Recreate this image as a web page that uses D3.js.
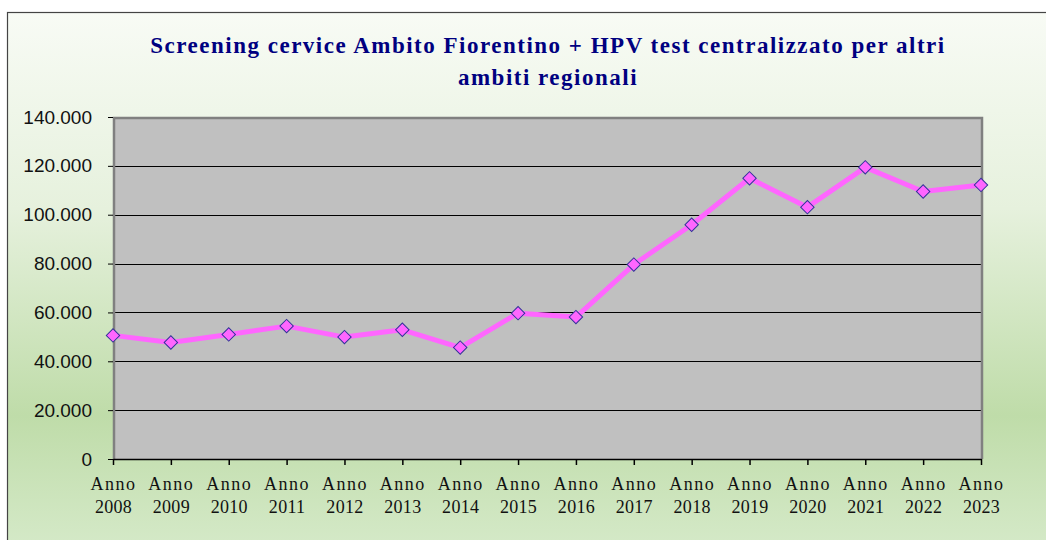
<!DOCTYPE html>
<html>
<head>
<meta charset="utf-8">
<script src="https://cdn.jsdelivr.net/npm/d3@7"></script>
<style>
  html, body { margin: 0; padding: 0; background: #ffffff; }
</style>
</head>
<body>
<div id="chart"></div>
<script>
// Data
const years = ["2008", "2009", "2010", "2011", "2012", "2013", "2014", "2015",
  "2016", "2017", "2018", "2019", "2020", "2021", "2022", "2023"];
const categories = years.map(y => "Anno " + y);
const values = [50600, 47700, 51000, 54400, 49900, 52900, 45600, 59700,
  58100, 79600, 95900, 114900, 103100, 119400, 109500, 112200];
const yTicks = [0, 20000, 40000, 60000, 80000, 100000, 120000, 140000];
const titleLines = ["Screening cervice Ambito Fiorentino + HPV test centralizzato per altri",
  "ambiti regionali"];

// Settings
const width = 1046, height = 540;
const plot = { left: 113, right: 981, top: 117, bottom: 459 };

const svg = d3.select("#chart").append("svg")
  .attr("width", width)
  .attr("height", height);

const defs = svg.append("defs");
const grad = defs.append("linearGradient")
  .attr("id", "bg")
  .attr("x1", 0).attr("y1", 0).attr("x2", 0).attr("y2", 1);
[["0%", "#f8fbf5"], ["35%", "#e6f1dd"], ["72%", "#bfdca9"], ["100%", "#d9ecce"]]
  .forEach(s => grad.append("stop").attr("offset", s[0]).attr("stop-color", s[1]));

// chart area background + border
svg.append("rect")
  .attr("x", 7.5).attr("y", 12.5)
  .attr("width", 1060).attr("height", 560)
  .attr("fill", "url(#bg)")
  .attr("stroke", "#444")
  .attr("stroke-width", 1.2);

// title
const title = svg.append("text")
  .attr("text-anchor", "middle")
  .attr("font-family", "'Liberation Serif', serif")
  .attr("font-weight", "bold")
  .attr("font-size", 23)
  .attr("letter-spacing", 1.5)
  .attr("fill", "#000080");
titleLines.forEach((t, i) => {
  title.append("tspan")
    .attr("x", 548)
    .attr("y", 53 + i * 32)
    .text(t);
});

// scales
const x = d3.scalePoint()
  .domain(categories)
  .range([plot.left, plot.right]);

const y = d3.scaleLinear()
  .domain([0, 140000])
  .range([plot.bottom, plot.top]);

// plot area
svg.append("rect")
  .attr("x", plot.left).attr("y", plot.top)
  .attr("width", plot.right - plot.left)
  .attr("height", plot.bottom - plot.top)
  .attr("fill", "#c0c0c0");

// gridlines
svg.append("g")
  .selectAll("line")
  .data(yTicks.filter(d => d > 0 && d < 140000))
  .join("line")
  .attr("x1", plot.left).attr("x2", plot.right)
  .attr("y1", d => Math.round(y(d)) + 0.5)
  .attr("y2", d => Math.round(y(d)) + 0.5)
  .attr("stroke", "#000")
  .attr("stroke-width", 1);

// gray frame (left, top, right)
svg.append("path")
  .attr("d", `M${plot.left + 1},${plot.bottom} V${plot.top + 1} H${plot.right + 1} V${plot.bottom}`)
  .attr("fill", "none")
  .attr("stroke", "#808080")
  .attr("stroke-width", 2.5);

// y axis
const fmt = d => d3.format(",")(d).replace(/,/g, ".");
const yAxis = svg.append("g")
  .attr("transform", `translate(${plot.left},0)`)
  .call(d3.axisLeft(y).tickValues(yTicks).tickFormat(fmt).tickSize(5).tickPadding(16));
yAxis.select(".domain").remove();
yAxis.selectAll("line").attr("stroke", "#000");
yAxis.selectAll("text")
  .attr("font-family", "'Liberation Sans', Arial, sans-serif")
  .attr("font-size", 19)
  .attr("fill", "#111");

// x axis
const xAxis = svg.append("g")
  .attr("transform", `translate(0,${plot.bottom})`)
  .call(d3.axisBottom(x).tickSize(6).tickSizeOuter(0).tickFormat(""));
xAxis.select(".domain").attr("stroke", "#000").attr("stroke-width", 1.5);
xAxis.selectAll(".tick line").attr("stroke", "#000").attr("stroke-width", 1.5);
xAxis.selectAll(".tick").append("text")
  .attr("font-family", "'Liberation Serif', 'Times New Roman', serif")
  .attr("font-size", 18)
  .attr("fill", "#111")
  .attr("text-anchor", "middle")
  .selectAll("tspan")
  .data(d => d.split(" "))
  .join("tspan")
  .attr("x", 0)
  .attr("y", (d, i) => 31 + i * 23)
  .attr("letter-spacing", (d, i) => i === 0 ? 1.5 : 0.3)
  .text(d => d);

// line
const line = d3.line()
  .x((d, i) => x(categories[i]))
  .y(d => y(d));

svg.append("path")
  .datum(values)
  .attr("d", line)
  .attr("fill", "none")
  .attr("stroke", "#ff66ff")
  .attr("stroke-width", 5)
  .attr("stroke-linejoin", "round");

// markers
svg.append("g")
  .selectAll("path")
  .data(values)
  .join("path")
  .attr("transform", (d, i) => `translate(${x(categories[i])},${y(d)}) rotate(45)`)
  .attr("d", d3.symbol().type(d3.symbolSquare).size(90))
  .attr("fill", "#ff66ff")
  .attr("stroke", "#333399")
  .attr("stroke-width", 1);
</script>
</body>
</html>
